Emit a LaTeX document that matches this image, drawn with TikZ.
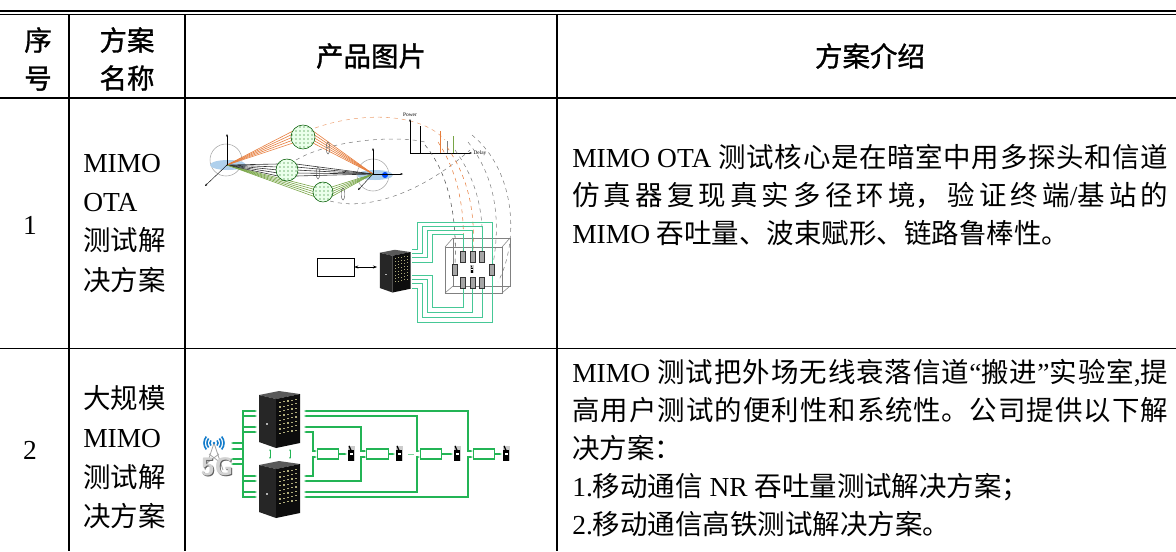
\documentclass[tikz,border=0pt]{standalone}
\usepackage{fontspec}
\setmainfont{Liberation Serif}
\newfontfamily\cjk{Noto Sans CJK SC}
\newfontfamily\hei[FakeBold=1.2]{Noto Sans CJK SC}
\usetikzlibrary{arrows.meta}
\usetikzlibrary{patterns}
\XeTeXlinebreaklocale "zh"
\XeTeXlinebreakskip=0pt plus 6pt
\definecolor{cablegreen}{RGB}{35,180,85}
\definecolor{probeline}{RGB}{70,200,150}
\definecolor{rayorange}{RGB}{230,125,60}
\definecolor{raygreen}{RGB}{120,165,70}
\definecolor{skyblue}{RGB}{175,208,236}
\tikzset{
  rack/.pic={
    \fill[black!65] (1,5) -- (21,1) -- (42,4) -- (18,9) -- cycle;
    \fill[black!85] (1,5) -- (18,9) -- (18,58) -- (1,52) -- cycle;
    \fill[black!95] (18,9) -- (42,4) -- (42,53) -- (18,58) -- cycle;
    \foreach \r in {0,...,7} {
      \foreach \c in {0,...,4} {
        \fill[yellow!30!gray] ({21+\c*4},{12+\r*4.4-\c*0.8}) rectangle +(1.6,1.1);
        };
      };
    \fill[gray!60] (8,33) rectangle +(2,2);
  },
  handset/.pic={
    \fill[gray!40] (-3.5,-7.5) rectangle (3.5,7.5);
    \fill[black] (-2.8,-3) rectangle (2.8,7.5);
    \fill[black] (-1,-3) -- (-2.5,-7) -- (-1.5,-7.5) -- (0.5,-3) -- cycle;
    \fill[white] (-1.5,0) rectangle (1.5,2);
  }
}

\begin{document}
\begin{tikzpicture}[x=0.75pt,y=-0.75pt,
  rule/.style={line width=1.1pt},
  head/.style={font={\hei\fontsize{20.6pt}{28.5pt}\selectfont},inner sep=0pt,align=center},
  body/.style={font=\fontsize{20.6pt}{28.5pt}\selectfont,inner sep=0pt},
  namecell/.style={body,font=\fontsize{20.6pt}{29.6pt}\selectfont,text width=80pt,align=left,anchor=base west},
  intro/.style={body,text width=447pt,align=justify,anchor=base west},
  wire/.style={cablegreen,line width=0.9pt},
  probewire/.style={probeline,line width=0.6pt},
  combbox/.style={draw=cablegreen,line width=0.8pt,fill=white,minimum width=16pt,minimum height=7.5pt,inner sep=0pt},
  arr/.style={-{Stealth[length=2pt]}},
  ray/.style={line width=0.45pt}]
\useasboundingbox (0,0) rectangle (1176,551);

\draw[line width=1.4pt] (0,10.8) -- (1176,10.8);
\draw[line width=0.6pt] (0,14) -- (1176,14);
\draw[rule] (0,98) -- (1176,98);
\draw[rule] (0,348.5) -- (1176,348.5);
\foreach \x in {69,185,557} {
	\draw[rule] (\x,14) -- (\x,551);
	};

\node[head] (xuhao) at (38,59) {序\\号};
\node[head] (mingcheng) at (127,59) {方案\\名称};
\node[head] (tupian) at (371,56) {产品图片};
\node[head] (jieshao) at (870,56) {方案介绍};

\node[body] (no1) at (30,225) {1};
\node[body] (no2) at (30,450) {2};
\node[namecell] (name1) at (83,172) {MIMO\\OTA\\{\cjk 测试解}\\{\cjk 决方案}};
\node[namecell] (name2) at (83,408.5) {{\cjk 大规模}\\MIMO\\{\cjk 测试解}\\{\cjk 决方案}};

\node[intro] (intro1) at (572,167.5) {MIMO OTA {\cjk 测试核心是在暗室中用多探头和信道}\linebreak{\cjk 仿真器复现真实多径环境，验证终端}/{\cjk 基站的}\linebreak MIMO {\cjk 吞吐量、波束赋形、链路鲁棒性。}};
\node[intro] (intro2) at (572,382.5) {MIMO {\cjk 测试把外场无线衰落信道}“{\cjk 搬进}”{\cjk 实验室},{\cjk 提}\linebreak{\cjk 高用户测试的便利性和系统性。公司提供以下解}\linebreak{\cjk 决方案：}\par 1.{\cjk 移动通信} NR {\cjk 吞吐量测试解决方案；}\par 2.{\cjk 移动通信高铁测试解决方案。}};

% picture 1
\draw[gray!70, line width=0.4pt] (226,160) circle (16);
\fill[skyblue] (228,165) ellipse (18 and 5);
\draw[gray!70, line width=0.4pt] (373,175) circle (16);
\fill[skyblue] (375,175) ellipse (18 and 5);
\fill[blue!70!cyan] (385,175) circle (3);
\coordinate (ue) at (227,165);
\coordinate (bs) at (373,174);
\foreach \d in {-6,-3,0,3,6} {
	\draw[ray, rayorange] (ue) -- (293,{137+\d}) (313,{137+\d}) -- (bs);
	\draw[ray, black!80] (ue) -- (278,{170+\d}) (296,{170+\d}) -- (bs);
	\draw[ray, raygreen] (ue) -- (315,{192+\d*0.8}) (331,{192+\d*0.8}) -- (bs);
	};
\foreach \cx/\cy/\r in {303/137/12, 287/170/11, 323/192/10} {
	\filldraw[fill=green!8, draw=green!35!black, line width=0.4pt] (\cx,\cy) circle (\r);
	\fill[pattern=dots, pattern color=green!40!black] (\cx,\cy) circle (\r);
	};
\foreach \lx/\ly in {328/148, 318/173, 343/194} {
	\draw[gray!60!black, line width=0.3pt] (\lx,\ly) ellipse (1.8 and 6);
	};
\draw[arr, line width=0.3pt] (ue) -- (227,134);
\draw[arr, line width=0.3pt] (ue) -- (205,186);
\draw[arr, line width=0.3pt] (bs) -- (373,148);
\draw[arr, line width=0.3pt] (bs) -- (403,174);
\draw[arr, line width=0.3pt] (bs) -- (358,190);
\draw[dashed, rayorange!70, line width=0.4pt] (315,128) .. controls (360,112) and (420,112) .. (445,140);
\draw[dashed, gray, line width=0.4pt] (296,160) .. controls (330,140) and (395,135) .. (425,142);
\draw[dashed, gray, line width=0.4pt] (330,201) .. controls (370,212) and (425,190) .. (470,150);
\draw[arr, line width=0.4pt] (410,153) -- (410,119);
\draw[arr, line width=0.4pt] (410,153) -- (472,153);
\node[font=\fontsize{4pt}{4pt}\selectfont, anchor=south, inner sep=1pt] (power) at (410,118) {Power};
\node[font=\fontsize{4pt}{4pt}\selectfont, anchor=west, inner sep=1pt] (delay) at (472,153) {Delay};
\draw[line width=0.5pt] (420,153) -- (420,126);
\draw[rayorange, line width=0.5pt] (440,153) -- (440,131);
\draw[gray, line width=0.5pt] (447,153) -- (447,141);
\draw[raygreen, line width=0.5pt] (453,153) -- (453,136);
\draw[dashed, black!70, line width=0.4pt] (425,145) .. controls (450,175) and (457,220) .. (455,264);
\draw[dashed, rayorange, line width=0.4pt] (438,142) .. controls (460,175) and (465,215) .. (463,251);
\draw[dashed, rayorange, line width=0.4pt] (447,147) .. controls (470,180) and (475,215) .. (473,251);
\draw[dashed, gray, line width=0.4pt] (455,150) .. controls (478,182) and (484,215) .. (482,251);
\draw[dashed, gray, line width=0.4pt] (468,142) .. controls (498,180) and (500,225) .. (493,264);
\draw[dashed, gray, line width=0.4pt] (472,135) .. controls (515,170) and (520,240) .. (498,282);
\draw[gray, line width=0.4pt] (453,238) rectangle (510,286);
\draw[gray, line width=0.4pt] (445,247) rectangle (502,293);
\draw[gray, line width=0.4pt] (445,247) -- (453,238) (502,247) -- (510,238) (502,293) -- (510,286) (445,293) -- (453,286);
\foreach \i in {0,...,3} {
	\pgfmathsetmacro\topy{\i<3 ? 251 : 264}
	\pgfmathsetmacro\boty{\i<3 ? 289 : 276}
	\draw[probewire] (412,{262-4.3*\i}) -| ({432-5*\i},{234-4*\i}) -| ({463+9.7*\i},\topy);
	\draw[probewire] (412,{275+4.3*\i}) -| ({432-5*\i},{307+5*\i}) -| ({463+9.7*\i},\boty);
	};
\foreach \px/\py in {463/257, 473/257, 482/257, 463/283, 473/283, 482/283, 455/270, 492/270} {
	\filldraw[fill=gray!70, draw=gray!40!black, line width=0.3pt] ({\px-2.5},{\py-5.5}) rectangle ({\px+2.5},{\py+5.5});
	};
\pic[scale=0.5] at (472,269) {handset};
\pic[scale=0.75] at (379,249) {rack};
\node[draw, line width=0.4pt, fill=white, minimum width=27.75pt, minimum height=13.5pt, inner sep=0pt] (emu) at (335.5,267) {};
\coordinate (rackin) at (377,267);
\draw[{Stealth[length=3pt]}-{Stealth[length=3pt]}, line width=0.4pt] (emu.east) -- (rackin);

% picture 2
\draw[gray!70, line width=0.6pt] (214,443) -- (205,470) (214,443) -- (223,470) (207,463) -- (219,454) (221,463) -- (209,454);
\foreach \r in {4,7,10} {
	\draw[cyan!60!blue, line width=1.2pt] ({214+\r*cos(40)},{443+\r*sin(40)}) arc[start angle=40, end angle=-40, radius=\r];
	\draw[cyan!60!blue, line width=1.2pt] ({214+\r*cos(140)},{443+\r*sin(140)}) arc[start angle=140, end angle=220, radius=\r];
	};
\fill[cyan!60!blue] (214,443) circle (1.3);
\node[font=\sffamily\bfseries\fontsize{19pt}{19pt}\selectfont, text=gray!75!black, inner sep=0pt] (fivegs) at (218,468) {5G};
\node[font=\sffamily\bfseries\fontsize{19pt}{19pt}\selectfont, text=gray!35, inner sep=0pt] (fiveg) at (217,467) {5G};
\pic at (258,390) {rack};
\pic at (258,460) {rack};
\draw[wire] (243,410) -- (243,498);
\foreach \y in {411,416,427,432,476,481,492,497} {
	\draw[wire, arr] (243,\y) -- (257,\y);
	};
\foreach \y in {443,449,459,464} {
	\draw[wire, arr] (243,\y) -- (231,\y);
	};
\draw[wire, line width=0.5pt, {Stealth[length=1.5pt]}-{Stealth[length=1.5pt]}] (270,449) -- (270,459);
\draw[wire, line width=0.5pt, {Stealth[length=1.5pt]}-{Stealth[length=1.5pt]}] (290,449) -- (290,459);
\node[combbox] (hl1) at (328,454) {};
\node[combbox] (hl2) at (377.5,454) {};
\node[combbox] (hl3) at (431,454) {};
\node[combbox] (hl4) at (484,454) {};
\foreach \n/\xv/\yt/\yb in {1/313/432/476, 2/361/427/481, 3/417/416/492, 4/468/411/497} {
	\draw[wire, {Stealth[length=2pt]}-{Stealth[length=2pt]}] (304,\yt) -| (\xv,451) -- (hl\n.west |- 0,451);
	\draw[wire, {Stealth[length=2pt]}-{Stealth[length=2pt]}] (304,\yb) -| (\xv,457) -- (hl\n.west |- 0,457);
	};
\foreach \n/\px in {1/351, 2/399, 3/457, 4/506} {
	\pic at (\px,453) {handset};
	\coordinate (ph\n) at ({\px-4},454);
	\draw[wire, arr] (hl\n.east) -- (ph\n);
	};
\draw[cablegreen!60, line width=0.4pt] (408,454) -- (414,454);
\end{tikzpicture}
\end{document}
